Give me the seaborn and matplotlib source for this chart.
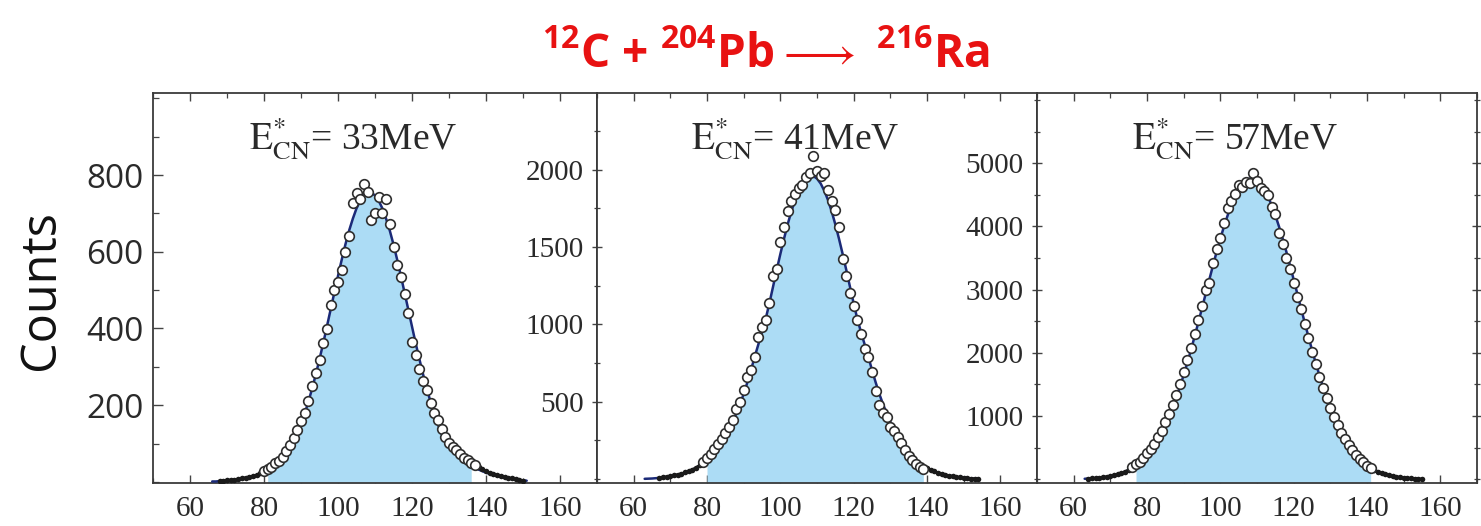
import numpy as np
import pandas as pd
import matplotlib
matplotlib.use("Agg")
import matplotlib.pyplot as plt
from matplotlib.ticker import MultipleLocator
import seaborn as sns

# ---------------- data ----------------
energies = ["33", "41", "57"]

# E*CN = 33 MeV
pts_start_33 = 80
pts_33 = [28, 33, 40, 48, 55, 66, 80, 96, 115, 135, 158, 180, 212, 250, 284, 318,
          362, 398, 462, 500, 520, 552, 600, 640, 726, 752, 738, 778, 757, 683,
          700, 742, 700, 738, 672, 612, 565, 535, 491, 440, 365, 330, 295, 262,
          239, 205, 180, 161, 138, 117, 102, 92, 83, 72, 63, 56, 50, 44]
tail_l_start_33 = 68
tail_l_33 = [2, 3, 4, 5, 6, 7, 9, 11, 13, 15, 18, 22]
tail_r_start_33 = 138
tail_r_33 = [38, 33, 28, 24, 21, 18, 15, 13, 11, 9, 7, 5, 3]
fit_start_33 = 66
fit_33 = [1, 1, 2, 2, 3, 4, 5, 6, 7, 9, 11, 13, 16, 19, 26, 31, 37, 43, 50, 60,
          72, 87, 104, 126, 150, 178, 209, 243, 280, 320, 361, 405, 449, 493,
          537, 579, 619, 655, 686, 713, 733, 747, 754, 754, 747, 733, 713, 686,
          655, 619, 579, 537, 493, 449, 405, 361, 320, 280, 243, 209, 178, 150,
          126, 110, 95, 82, 72, 63, 55, 48, 42, 37, 32, 28, 24, 21, 18, 15, 13,
          11, 9, 7, 6, 5, 4, 3]
fill_33 = (81, 136)

# E*CN = 41 MeV
pts_start_41 = 79
pts_41 = [110, 138, 160, 195, 230, 262, 298, 340, 382, 455, 500, 575, 660, 705,
          790, 920, 985, 1030, 1140, 1310, 1360, 1530, 1630, 1730, 1800, 1845,
          1880, 1900, 1955, 1975, 2090, 1990, 1960, 1975, 1870, 1800, 1740, 1630,
          1420, 1310, 1200, 1120, 1030, 940, 840, 790, 690, 570, 480, 430, 400,
          340, 310, 270, 231, 190, 150, 123, 100, 80, 65]
tail_l_start_41 = 67
tail_l_41 = [9, 12, 15, 19, 24, 29, 36, 43, 52, 62, 75, 90]
tail_r_start_41 = 140
tail_r_41 = [72, 60, 50, 41, 34, 28, 23, 18, 14, 11, 8, 6, 4, 3, 2]
fit_start_41 = 63
fit_41 = [2, 3, 4, 6, 8, 11, 14, 18, 23, 28, 34, 41, 50, 60, 73, 88, 105, 126,
          150, 178, 208, 242, 280, 322, 370, 425, 485, 550, 625, 705, 790, 870,
          950, 1035, 1135, 1242, 1350, 1454, 1553, 1646, 1730, 1803, 1863, 1910,
          1942, 1958, 1958, 1942, 1910, 1863, 1803, 1730, 1646, 1553, 1454, 1350,
          1242, 1135, 1035, 950, 870, 790, 705, 625, 550, 485, 425, 370, 322, 280,
          242, 208, 178, 150, 126, 105, 88, 73, 60, 50, 41, 34, 28, 23, 18, 14,
          11, 8, 6, 4, 3, 2]
fill_41 = (80, 139)

# E*CN = 57 MeV
pts_start_57 = 76
pts_57 = [195, 235, 280, 335, 410, 480, 560, 660, 770, 900, 1030, 1170, 1330,
          1500, 1690, 1880, 2070, 2300, 2520, 2740, 2990, 3110, 3420, 3640, 3820,
          4050, 4290, 4400, 4520, 4660, 4620, 4700, 4690, 4850, 4720, 4610, 4560,
          4500, 4300, 4200, 3900, 3720, 3500, 3320, 3110, 2880, 2690, 2450, 2240,
          2020, 1830, 1610, 1440, 1280, 1120, 980, 850, 730, 640, 540, 460, 380,
          320, 265, 215, 180]
tail_l_start_57 = 64
tail_l_57 = [10, 13, 17, 23, 30, 38, 48, 62, 78, 96, 120, 150]
tail_r_start_57 = 142
tail_r_57 = [150, 120, 98, 78, 62, 49, 38, 29, 23, 17, 13, 10, 7, 5]
fit_start_57 = 63
fit_57 = [7, 10, 13, 17, 23, 29, 38, 48, 61, 77, 96, 119, 147, 180, 220, 267,
          321, 384, 457, 540, 635, 741, 859, 991, 1136, 1294, 1465, 1648, 1842,
          2047, 2261, 2481, 2706, 2933, 3159, 3382, 3599, 3805, 3998, 4175, 4334,
          4471, 4583, 4669, 4727, 4756, 4756, 4727, 4669, 4583, 4471, 4334, 4175,
          3998, 3805, 3599, 3382, 3159, 2933, 2706, 2481, 2261, 2047, 1842, 1648,
          1465, 1294, 1136, 991, 859, 741, 635, 540, 457, 384, 321, 267, 220, 180,
          147, 119, 96, 77, 61, 48, 38, 29, 23, 17, 13, 10, 7]
fill_57 = (77, 141)

x_ticks = [60, 80, 100, 120, 140, 160]
y_ticks_33 = [200, 400, 600, 800]
y_ticks_41 = [500, 1000, 1500, 2000]
y_ticks_57 = [1000, 2000, 3000, 4000, 5000]

# ---------------- style ----------------
sns.set_theme(style="white")
plt.rcParams["font.family"] = ["Liberation Serif", "DejaVu Serif"]
plt.rcParams["mathtext.fontset"] = "custom"
plt.rcParams["mathtext.rm"] = "Open Sans:bold"
plt.rcParams["mathtext.bf"] = "Open Sans:bold"
plt.rcParams["mathtext.it"] = "Open Sans:bold"

FILL = "#acdcf5"
CURVE = "#1b2a78"
EDGE = "#2e2e2e"
TXT = "#2a2a2a"

W, H = 1481, 526
fig = plt.figure(figsize=(W / 100, H / 100), dpi=100)
fig.patch.set_facecolor("white")

boxes = [(153, 444), (597, 440), (1037, 440)]
top_px, bot_px = 93, 483

panels = [
    dict(e="33", ps=pts_start_33, p=pts_33, tls=tail_l_start_33, tl=tail_l_33,
         trs=tail_r_start_33, tr=tail_r_33, fs=fit_start_33, f=fit_33,
         fill=fill_33, ylim=(-3, 1014), yt=y_ticks_33, ymin=100),
    dict(e="41", ps=pts_start_41, p=pts_41, tls=tail_l_start_41, tl=tail_l_41,
         trs=tail_r_start_41, tr=tail_r_41, fs=fit_start_41, f=fit_41,
         fill=fill_41, ylim=(-25, 2495), yt=y_ticks_41, ymin=250),
    dict(e="57", ps=pts_start_57, p=pts_57, tls=tail_l_start_57, tl=tail_l_57,
         trs=tail_r_start_57, tr=tail_r_57, fs=fit_start_57, f=fit_57,
         fill=fill_57, ylim=(-60, 6110), yt=y_ticks_57, ymin=500),
]

for i, (pn, (lx, wx)) in enumerate(zip(panels, boxes)):
    ax = fig.add_axes([lx / W, (H - bot_px) / H, wx / W, (bot_px - top_px) / H])
    ax.set_facecolor("white")

    fm = np.arange(pn["fs"], pn["fs"] + len(pn["f"]))
    fv = np.array(pn["f"], dtype=float)
    pm = np.arange(pn["ps"], pn["ps"] + len(pn["p"]))
    tlm = np.arange(pn["tls"], pn["tls"] + len(pn["tl"]))
    trm = np.arange(pn["trs"], pn["trs"] + len(pn["tr"]))

    mask = (fm >= pn["fill"][0]) & (fm <= pn["fill"][1])
    ax.fill_between(fm[mask], fv[mask], pn["ylim"][0], color=FILL, lw=0, zorder=1)

    sns.lineplot(x=fm, y=fv, ax=ax, color=CURVE, lw=1.8, zorder=3)
    for tm, tv in ((tlm, pn["tl"]), (trm, pn["tr"])):
        sns.lineplot(x=tm, y=tv, ax=ax, color="#1a1a1a", lw=1.8, marker="o",
                     markersize=4, markeredgewidth=0, zorder=4)
    sns.scatterplot(x=pm, y=pn["p"], ax=ax, s=48, color="white",
                    edgecolor=EDGE, linewidth=1.2, zorder=5, legend=False)

    ax.set_xlim(50, 170)
    ax.set_ylim(*pn["ylim"])
    ax.set_xlabel("")
    ax.set_ylabel("")

    ax.set_xticks(x_ticks)
    ax.set_xticklabels([str(t) for t in x_ticks], fontsize=21, color=TXT,
                       fontfamily="Liberation Serif")
    ax.xaxis.set_minor_locator(MultipleLocator(10))
    ax.set_yticks(pn["yt"])
    if i == 0:
        ax.set_yticklabels([str(t) for t in pn["yt"]], fontsize=24, color="#222222",
                           fontfamily="Open Sans")
    else:
        ax.set_yticklabels([str(t) for t in pn["yt"]], fontsize=21, color=TXT,
                           fontfamily="Liberation Serif")
    ax.yaxis.set_minor_locator(MultipleLocator(pn["ymin"]))

    ax.tick_params(axis="x", which="both", direction="in", top=True, bottom=True,
                   colors="#444444", labelcolor=TXT, pad=9)
    ax.tick_params(axis="x", which="major", length=6, width=1.0)
    ax.tick_params(axis="x", which="minor", length=3.5, width=0.9)
    ax.tick_params(axis="y", which="both", direction="inout" if i else "in",
                   left=True, right=(i == 2), colors="#444444",
                   labelcolor=TXT, pad=7 if i == 0 else 6)
    ax.tick_params(axis="y", which="major", length=7, width=1.0)
    ax.tick_params(axis="y", which="minor", length=4, width=0.9)

    for sp in ax.spines.values():
        sp.set_color("#3a3a3a")
        sp.set_linewidth(1.3)

    ax.text(0.45, 0.855, r"$\mathrm{E}^{*}_{\mathrm{CN}}$= " + pn["e"] + "MeV",
            transform=ax.transAxes, ha="center", va="baseline", fontsize=27,
            color=TXT, fontfamily="Liberation Serif", math_fontfamily="stix",
            zorder=6)

fig.text(41 / W, 1 - 290 / H, "Counts", rotation=90, ha="center", va="center",
         fontsize=35, fontfamily="Open Sans", color="#111111")

fig.text(766 / W, 1 - 67 / H,
         r"$^{12}$C + $^{204}$Pb$\longrightarrow$ $^{216}$Ra",
         ha="center", va="baseline", fontsize=33, fontfamily="Open Sans",
         fontweight="bold", color="#e81212", math_fontfamily="custom")

fig.savefig("out.png", dpi=100, facecolor="white")
